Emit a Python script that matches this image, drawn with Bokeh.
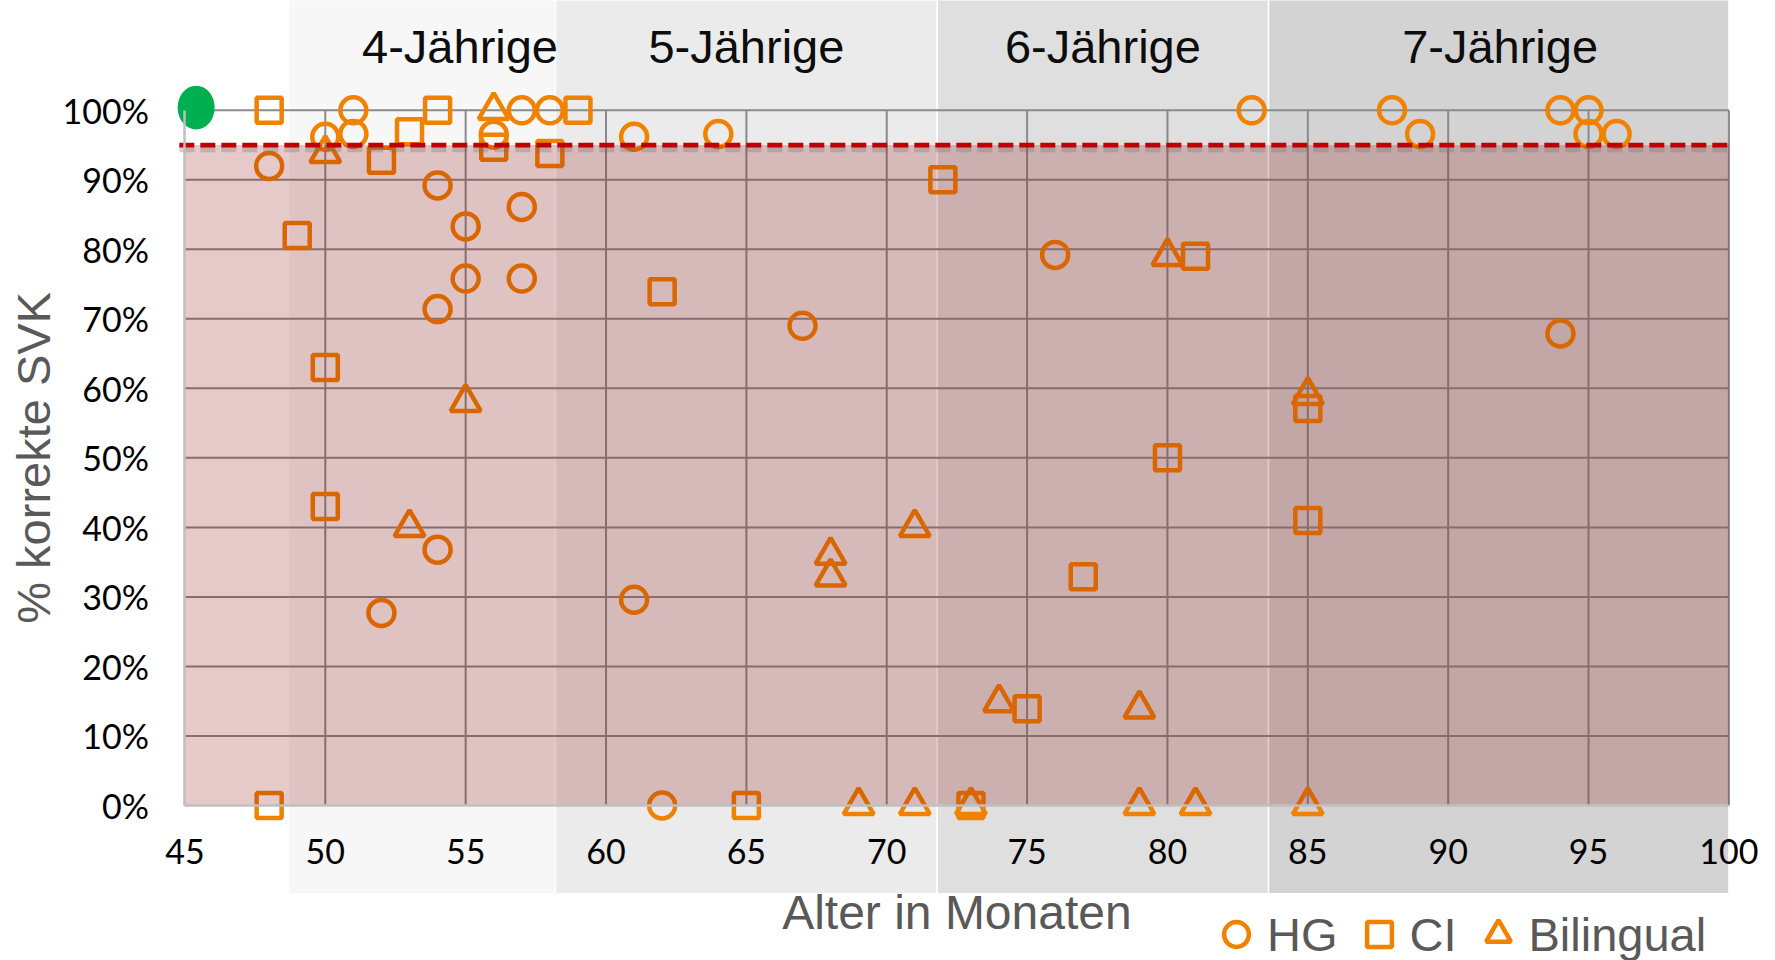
import math
from bokeh.plotting import figure
from bokeh.models import (FixedTicker, NumeralTickFormatter, Legend,
                          LegendItem, Range1d, Label)
from bokeh.core.properties import value
from bokeh.embed import file_html
from bokeh.resources import INLINE

# ---------------- data ----------------
# Hörgesunde Kinder (HG)
hg_age = [48, 50, 51, 51, 52, 54, 54, 54, 55, 55, 56, 57, 57, 57, 58,
          61, 61, 62, 64, 67, 76, 83, 88, 89, 94, 94, 95, 95, 96]
hg_pct = [0.92, 0.962, 1.00, 0.966, 0.277, 0.892, 0.714, 0.368, 0.833, 0.758,
          0.965, 1.00, 0.861, 0.758, 1.00, 0.962, 0.296, 0.0, 0.966, 0.69,
          0.792, 1.00, 1.00, 0.966, 1.00, 0.679, 1.00, 0.966, 0.966]
# Kinder mit CI
ci_age = [48, 48, 49, 50, 50, 52, 53, 54, 56, 58, 59, 62, 65, 72, 73, 75,
          77, 80, 81, 85, 85]
ci_pct = [1.00, 0.0, 0.82, 0.63, 0.43, 0.928, 0.969, 1.00, 0.947, 0.938,
          1.00, 0.739, 0.0, 0.90, 0.0, 0.139, 0.329, 0.50, 0.79, 0.571, 0.41]
# Bilinguale Kinder
bi_age = [50, 53, 55, 56, 68, 68, 69, 71, 71, 73, 74, 79, 79, 80, 81, 85, 85]
bi_pct = [0.938, 0.40, 0.58, 1.00, 0.36, 0.329, 0.0, 0.40, 0.0, 0.0, 0.148,
          0.139, 0.0, 0.79, 0.0, 0.59, 0.0]
# Startpunkt (grün)
start_age = [45.4]
start_pct = [1.004]

# Altersgruppen
band_labels = ["4-Jährige", "5-Jährige", "6-Jährige", "7-Jährige"]
band_start = [48.7, 58.2, 71.8, 83.6]
band_end = [58.2, 71.8, 83.6, 100.0]
band_label_x = [54.8, 65.0, 77.7, 91.85]
band_colors = ["#f7f7f7", "#ebebeb", "#dfdfdf", "#d3d3d3"]

threshold = 0.95
x_ticks = [45, 50, 55, 60, 65, 70, 75, 80, 85, 90, 95, 100]
y_ticks = [0.0, 0.1, 0.2, 0.3, 0.4, 0.5, 0.6, 0.7, 0.8, 0.9, 1.0]

ORANGE = "#f08200"

# ---------------- figure ----------------
p = figure(width=1775, height=960, output_backend="svg", toolbar_location=None,
           x_range=Range1d(38.43, 101.66), y_range=Range1d(-0.2231, 1.158),
           min_border_left=0, min_border_right=0, min_border_top=0,
           min_border_bottom=0)
p.outline_line_color = None
p.xgrid.visible = False
p.ygrid.visible = False

# age bands (behind everything)
p.quad(left=band_start, right=band_end, bottom=-0.127, top=1.2,
       fill_color=band_colors, line_color="white", line_width=1.5,
       level="image")

# grid lines limited to the data area
p.segment(x0=x_ticks[1:], y0=y_ticks[0], x1=x_ticks[1:], y1=y_ticks[-1],
          line_color="#8a8a8a", line_width=2, level="underlay")
p.segment(x0=x_ticks[0], y0=y_ticks[1:], x1=x_ticks[-1], y1=y_ticks[1:],
          line_color="#8a8a8a", line_width=2, level="underlay")

# band titles
p.text(x=band_label_x, y=[1.0913] * len(band_labels), text=band_labels,
       text_align="center", text_baseline="middle",
       text_font=value("Liberation Sans"), text_font_size="47px",
       text_color="#0d0d0d")

# markers
common = dict(fill_color=None, line_color=ORANGE, line_width=4.5)
r_hg = p.scatter(hg_age, hg_pct, marker="circle", size=26, **common)
r_ci = p.scatter(ci_age, ci_pct, marker="square", size=25, **common)
r_bi = p.scatter(bi_age, bi_pct, marker="triangle", size=30, **common)

# translucent red overlay below the threshold
p.quad(left=[x_ticks[0]], right=[x_ticks[-1]], bottom=[y_ticks[0]],
       top=[threshold], fill_color="#8b0000", fill_alpha=0.21,
       line_color=None)

# threshold line with shadow
p.segment(x0=[x_ticks[0] - 0.2], y0=[threshold - 0.006],
          x1=[x_ticks[-1]], y1=[threshold - 0.006],
          line_color="#707070", line_alpha=0.3, line_width=6,
          line_dash="15 6")
p.segment(x0=[x_ticks[0] - 0.2], y0=[threshold], x1=[x_ticks[-1]],
          y1=[threshold], line_color="#c00000", line_width=4.7,
          line_dash="15 6")

# green start point
p.ellipse(x=start_age, y=start_pct, width=1.32, height=0.063,
          fill_color="#00b050", line_color=None)

# ---------------- axes ----------------
xa = p.xaxis[0]
xa.fixed_location = y_ticks[0]
xa.bounds = (x_ticks[0], x_ticks[-1])
xa.ticker = FixedTicker(ticks=x_ticks)
xa.major_label_text_font = "Lato"
xa.major_label_text_font_size = "34px"
xa.major_label_text_color = "#000000"
xa.major_label_standoff = 34
xa.major_tick_out = 0
xa.major_tick_in = 0
xa.minor_tick_out = 0
xa.minor_tick_in = 0
xa.axis_line_color = "#bfbfbf"
xa.axis_line_width = 2.5

ya = p.yaxis[0]
ya.fixed_location = x_ticks[0]
ya.bounds = (y_ticks[0], y_ticks[-1])
ya.ticker = FixedTicker(ticks=y_ticks)
ya.formatter = NumeralTickFormatter(format="0%")
ya.major_label_text_font = "Lato"
ya.major_label_text_font_size = "34px"
ya.major_label_text_color = "#000000"
ya.major_label_standoff = 36
ya.major_tick_out = 0
ya.major_tick_in = 0
ya.minor_tick_out = 0
ya.minor_tick_in = 0
ya.axis_line_color = "#bfbfbf"
ya.axis_line_width = 2.5

# axis titles
p.add_layout(Label(x=(x_ticks[0] + x_ticks[-1]) / 2, y=48, y_units="screen",
                   text="Alter in Monaten", text_align="center",
                   text_baseline="middle", text_font="Liberation Sans",
                   text_font_size="48px", text_color="#595959"))
p.add_layout(Label(x=33, x_units="screen", y=(y_ticks[0] + y_ticks[-1]) / 2,
                   text="% korrekte SVK", angle=math.pi / 2,
                   text_align="center", text_baseline="middle",
                   text_font="Liberation Sans", text_font_size="47px",
                   text_color="#595959"))

# ---------------- legend ----------------
legend = Legend(items=[LegendItem(label="HG", renderers=[r_hg]),
                       LegendItem(label="CI", renderers=[r_ci]),
                       LegendItem(label="Bilingual", renderers=[r_bi])],
                orientation="horizontal", location=(1205, -7),
                glyph_width=62, glyph_height=66, label_standoff=0,
                spacing=10, padding=0, margin=0,
                label_text_font="Liberation Sans", label_text_font_size="47px",
                label_text_color="#595959",
                background_fill_alpha=0, border_line_alpha=0)
p.add_layout(legend)

open("out.html", "w").write(file_html(p, INLINE))
